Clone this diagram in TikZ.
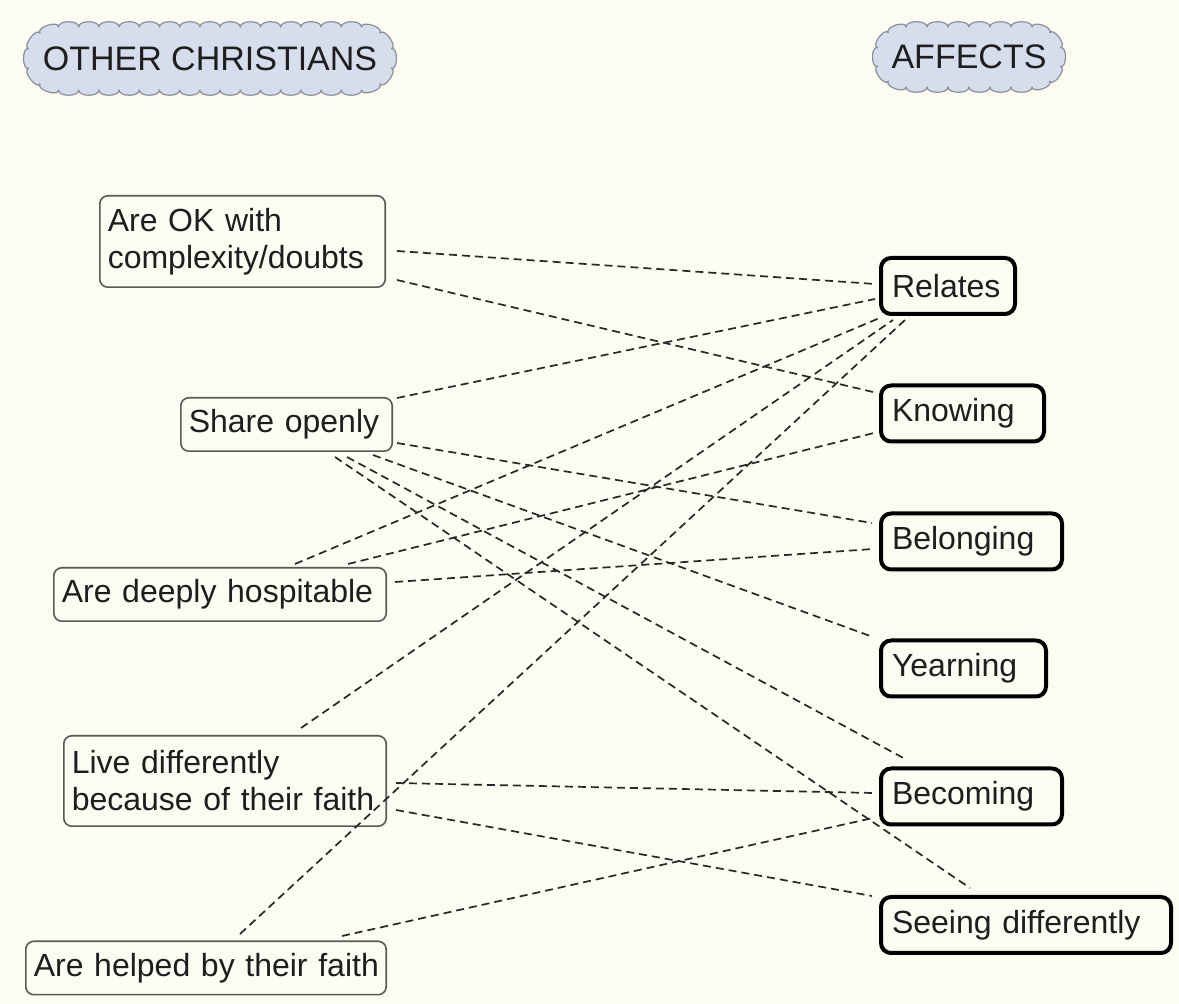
\documentclass[tikz,border=0pt]{standalone}
\usepackage{fontspec}
\setmainfont{Liberation Sans}
\definecolor{paper}{RGB}{253,252,242}
\definecolor{cloudfill}{RGB}{214,221,236}
\definecolor{cloudline}{RGB}{140,143,155}
\definecolor{ink}{RGB}{30,30,30}
\definecolor{linkgray}{RGB}{40,40,40}
% scalloped stadium: #1 style, #2 cx, #3 cy, #4 half straight length,
% #5 end radius, #6 bumps per long side, #7 bumps per end
\newcommand\scallops[7]{%
  \pgfmathsetmacro\scStep{2*#4/#6}%
  \draw[#1] (#2-#4,#3-#5)
    \foreach \i in {1,...,#6} { .. controls +(0,-7) and +(0,-7) .. ++(\scStep,0) }
    \foreach \j [evaluate=\j as \aa using -90+(\j-1)*180/#7,
                 evaluate=\j as \ab using -90+\j*180/#7] in {1,...,#7}
      { .. controls +(\aa:7) and +(\ab:7) .. ([shift={(\ab:#5)}]#2+#4,#3) }
    \foreach \i in {1,...,#6} { .. controls +(0,7) and +(0,7) .. ++(-\scStep,0) }
    \foreach \j [evaluate=\j as \aa using 90+(\j-1)*180/#7,
                 evaluate=\j as \ab using 90+\j*180/#7] in {1,...,#7}
      { .. controls +(\aa:7) and +(\ab:7) .. ([shift={(\ab:#5)}]#2-#4,#3) }
    -- cycle;}
\begin{document}
\begin{tikzpicture}[x=0.5pt,y=-0.5pt,
  every node/.style={outer sep=0pt, text=ink, font=\fontsize{16}{18.5}\selectfont},
  cloudshape/.style={draw=cloudline, fill=cloudfill, line width=0.6pt, line join=round},
  heading/.style={inner sep=0pt, font=\fontsize{17}{20}\selectfont},
  cause/.style={draw=black!65, line width=0.8pt, rounded corners=4pt, fill=paper,
    align=left, inner xsep=4pt, inner ysep=0pt, text width=#1, minimum height=26.7pt},
  effect/.style={draw=black, line width=2pt, rounded corners=5pt, fill=paper,
    align=left, inner xsep=5.5pt, inner ysep=0pt, text width=#1, minimum height=28pt},
  link/.style={draw=linkgray, line width=0.85pt, dash pattern=on 4pt off 2.5pt},
]
% page
\fill[paper] (0,0) rectangle (1179,1004);

% headings
\scallops{cloudshape}{210}{58.5}{151.5}{31.5}{15}{5}
\scallops{cloudshape}{969}{57}{63}{30}{6}{5}
\node[heading] (others) at (210,58.5) {OTHER CHRISTIANS};
\node[heading] (affects) at (969,57) {AFFECTS};

% what other Christians do
\node[cause=134.7pt, minimum height=45.7pt] (ok) at (242.5,241.5)
  {\mbox{Are OK with}\\\mbox{complexity/doubts}};
\node[cause=97.7pt] (share) at (286.5,424.5) {\mbox{Share openly}};
\node[cause=158.2pt] (hosp) at (220,594.5) {\mbox{Are deeply hospitable}};
\node[cause=153.2pt, minimum height=45.2pt] (live) at (225,781)
  {\mbox{Live differently}\\\mbox{because of their faith}};
\node[cause=172.2pt] (help) at (206,968) {\mbox{Are helped by their faith}};

% what it affects
\node[effect=56pt] (relates) at (948,286) {\mbox{Relates}};
\node[effect=70.5pt] (knowing) at (962.5,413.5) {\mbox{Knowing}};
\node[effect=79.5pt] (belong) at (971.5,541.5) {\mbox{Belonging}};
\node[effect=71.5pt] (yearn) at (963.5,668.5) {\mbox{Yearning}};
\node[effect=79.5pt] (becoming) at (971.5,796.5) {\mbox{Becoming}};
\node[effect=134pt] (seeing) at (1026,925) {\mbox{Seeing differently}};

% links
\draw[link] ([shift={(154.5,9.5)}]ok.center) -- ([shift={(-73,-2)}]relates.center);
\draw[link] ([shift={(154.5,38.5)}]ok.center) -- ([shift={(-89.5,-21.5)}]knowing.center);
\draw[link] ([shift={(110.5,-26.5)}]share.center) -- ([shift={(-73,13)}]relates.center);
\draw[link] ([shift={(110.5,18.5)}]share.center) -- ([shift={(-99.5,-18.5)}]belong.center);
\draw[link] ([shift={(86.5,30.5)}]share.center) -- ([shift={(-90.5,-31.5)}]yearn.center);
\draw[link] ([shift={(60.5,32.5)}]share.center) -- ([shift={(-64.5,-36.5)}]becoming.center);
\draw[link] ([shift={(48.5,32.5)}]share.center) -- ([shift={(-56,-37)}]seeing.center);
\draw[link] ([shift={(75,-30.5)}]hosp.center) -- ([shift={(-66,31)}]relates.center);
\draw[link] ([shift={(128,-30.5)}]hosp.center) -- ([shift={(-88.5,19.5)}]knowing.center);
\draw[link] ([shift={(175,-12.5)}]hosp.center) -- ([shift={(-98.5,7.5)}]belong.center);
\draw[link] ([shift={(76,-53)}]live.center) -- ([shift={(-55,34)}]relates.center);
\draw[link] ([shift={(171,2)}]live.center) -- ([shift={(-98.5,-3.5)}]becoming.center);
\draw[link] ([shift={(171,29)}]live.center) -- ([shift={(-154,-29)}]seeing.center);
\draw[link] ([shift={(34,-34)}]help.center) -- ([shift={(-43,34)}]relates.center);
\draw[link] ([shift={(136,-32)}]help.center) -- ([shift={(-98.5,21.5)}]becoming.center);
\end{tikzpicture}
\end{document}
